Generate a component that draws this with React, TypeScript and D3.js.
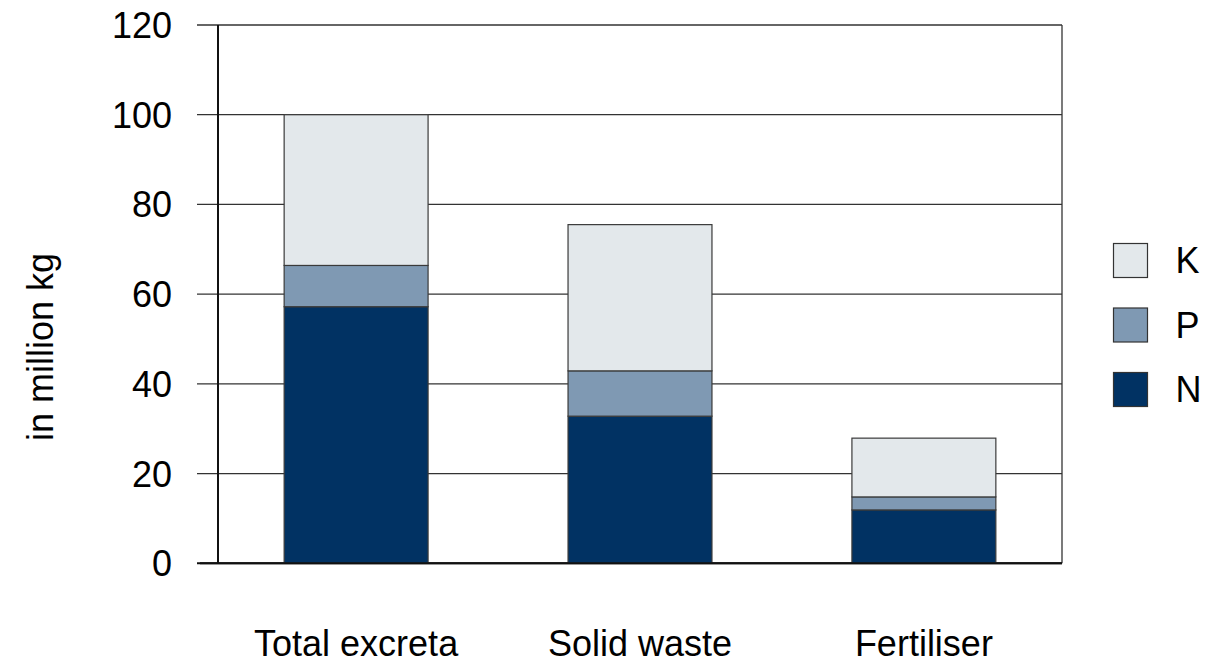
import React from "react";
import * as d3 from "d3";

const categories = ["Total excreta", "Solid waste", "Fertiliser"];
const seriesKeys = ["N", "P", "K"];
const nValues = [57.2, 32.8, 11.9];
const pValues = [9.2, 10.1, 2.9];
const kValues = [33.6, 32.6, 13.1];
const yTicks = [0, 20, 40, 60, 80, 100, 120];
const legendOrder = ["K", "P", "N"];
const colors: Record<string, string> = { N: "#013263", P: "#7f99b3", K: "#e3e8eb" };

const W = 1230, H = 665;
const left = 218, right = 1062, top = 25, bottom = 563.3;
const FONT = "'Liberation Sans', Arial, sans-serif";

export default function App() {
  const rows = categories.map((c, i) => ({ cat: c, N: nValues[i], P: pValues[i], K: kValues[i] }));
  const stack = d3.stack<any>().keys(seriesKeys)(rows);
  const x = d3.scaleBand<string>().domain(categories).range([left, right]).paddingInner(0.493).paddingOuter(0.233);
  const y = d3.scaleLinear().domain([0, 120]).range([bottom, top]);

  return (
    <svg width={W} height={H} style={{ position: "absolute", left: 0, top: 0, display: "block", background: "#fff" }} fontFamily={FONT}>
      {yTicks.map((t) => (
        <g key={t}>
          <line x1={197} x2={right} y1={y(t)} y2={y(t)} stroke={t === 0 ? "#111" : "#333"} strokeWidth={t === 0 ? 2 : 1.3} />
          <text x={172} y={y(t)} dy="0.36em" textAnchor="end" fontSize={36} fill="#000">{t}</text>
        </g>
      ))}
      <line x1={right} x2={right} y1={top} y2={bottom} stroke="#333" strokeWidth={1.3} />
      {stack.map((s) => (
        <g key={s.key}>
          {s.map((d, i) => (
            <rect key={i} x={x(categories[i])!} width={x.bandwidth()} y={y(d[1])} height={y(d[0]) - y(d[1])}
              fill={colors[s.key]} stroke="#3a3a3a" strokeWidth={1.2} />
          ))}
        </g>
      ))}
      <line x1={left} x2={left} y1={top} y2={bottom} stroke="#111" strokeWidth={2} />
      <line x1={200} x2={right} y1={bottom} y2={bottom} stroke="#111" strokeWidth={2} />
      {categories.map((c) => (
        <text key={c} x={x(c)! + x.bandwidth() / 2} y={656} textAnchor="middle" fontSize={36} fill="#000">{c}</text>
      ))}
      <text transform="translate(53,347) rotate(-90)" textAnchor="middle" fontSize={36} fill="#000">in million kg</text>
      {legendOrder.map((k, i) => (
        <g key={k} transform={`translate(1113.5,${243.5 + i * 64.5})`}>
          <rect width={34} height={34} fill={colors[k]} stroke="#333" strokeWidth={1.2} />
          <text x={62} y={17} dy="0.36em" fontSize={36} fill="#000">{k}</text>
        </g>
      ))}
    </svg>
  );
}
